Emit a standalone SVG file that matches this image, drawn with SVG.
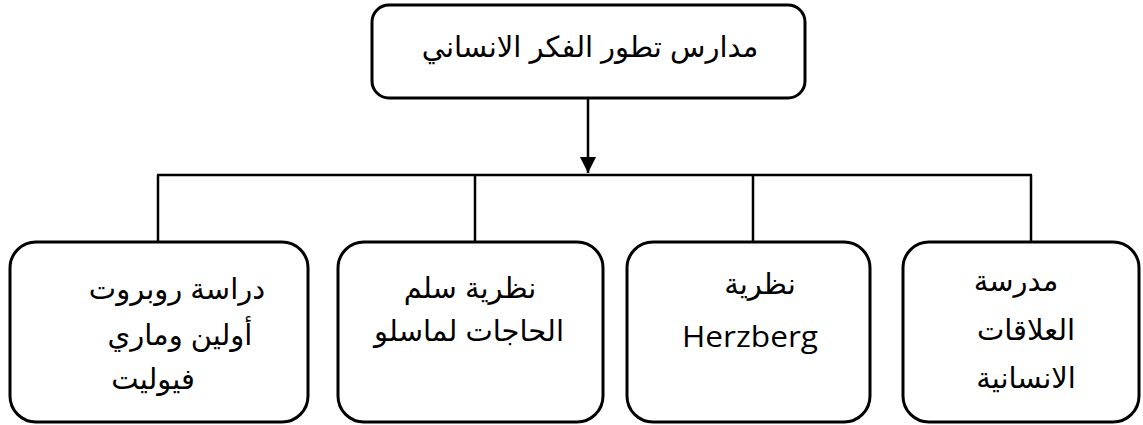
<svg xmlns="http://www.w3.org/2000/svg" width="1143" height="425" viewBox="0 0 1143 425">
  <style>
    .box { fill: #ffffff; stroke: #000000; stroke-width: 3; }
    .wire { fill: none; stroke: #000000; stroke-width: 2.5; }
    .ar { font-family: "Liberation Sans", "DejaVu Sans", sans-serif; font-size: 29px; fill: #000000; text-anchor: middle; direction: rtl; }
    .lat { font-family: "Open Sans", "Noto Sans", sans-serif; font-size: 29px; fill: #000000; text-anchor: middle; }
  </style>
  <defs>
    <marker id="arrowhead" markerWidth="16" markerHeight="16" refX="16" refY="8" orient="auto" markerUnits="userSpaceOnUse">
      <path d="M0,0 L16,8 L0,16 Z" fill="#000000"/>
    </marker>
  </defs>

  <!-- connectors -->
  <g id="connectors">
    <line class="wire" x1="588" y1="98" x2="588" y2="173" marker-end="url(#arrowhead)"/>
    <line class="wire" x1="157" y1="175" x2="1032" y2="175" stroke-width="3"/>
    <line class="wire" x1="158" y1="175" x2="158" y2="242"/>
    <line class="wire" x1="475" y1="175" x2="475" y2="242"/>
    <line class="wire" x1="753" y1="175" x2="753" y2="242"/>
    <line class="wire" x1="1031" y1="175" x2="1031" y2="242"/>
  </g>

  <!-- root -->
  <g id="root">
    <rect class="box" x="372" y="5" width="433" height="93" rx="17" ry="17"/>
    <text class="ar" x="590" y="57">مدارس تطور الفكر الانساني</text>
  </g>

  <!-- branches, right to left -->
  <g id="human-relations">
    <rect class="box" x="903" y="242" width="236" height="180" rx="26" ry="26"/>
    <text class="ar" x="1016" y="291">مدرسة</text>
    <text class="ar" x="1026" y="340">العلاقات</text>
    <text class="ar" x="1026" y="388">الانسانية</text>
  </g>

  <g id="herzberg">
    <rect class="box" x="627" y="242" width="243" height="180" rx="26" ry="26"/>
    <text class="ar" x="760" y="294">نظرية</text>
    <text class="lat" x="750" y="347" textLength="136" lengthAdjust="spacingAndGlyphs">Herzberg</text>
  </g>

  <g id="maslow">
    <rect class="box" x="338" y="242" width="265" height="180" rx="26" ry="26"/>
    <text class="ar" x="470" y="298">نظرية سلم</text>
    <text class="ar" x="469" y="341">الحاجات لماسلو</text>
  </g>

  <g id="owen-follett">
    <rect class="box" x="10" y="242" width="298" height="180" rx="26" ry="26"/>
    <text class="ar" x="177" y="299">دراسة روبروت</text>
    <text class="ar" x="180" y="345">أولين وماري</text>
    <text class="ar" x="153" y="389">فيوليت</text>
  </g>
</svg>
